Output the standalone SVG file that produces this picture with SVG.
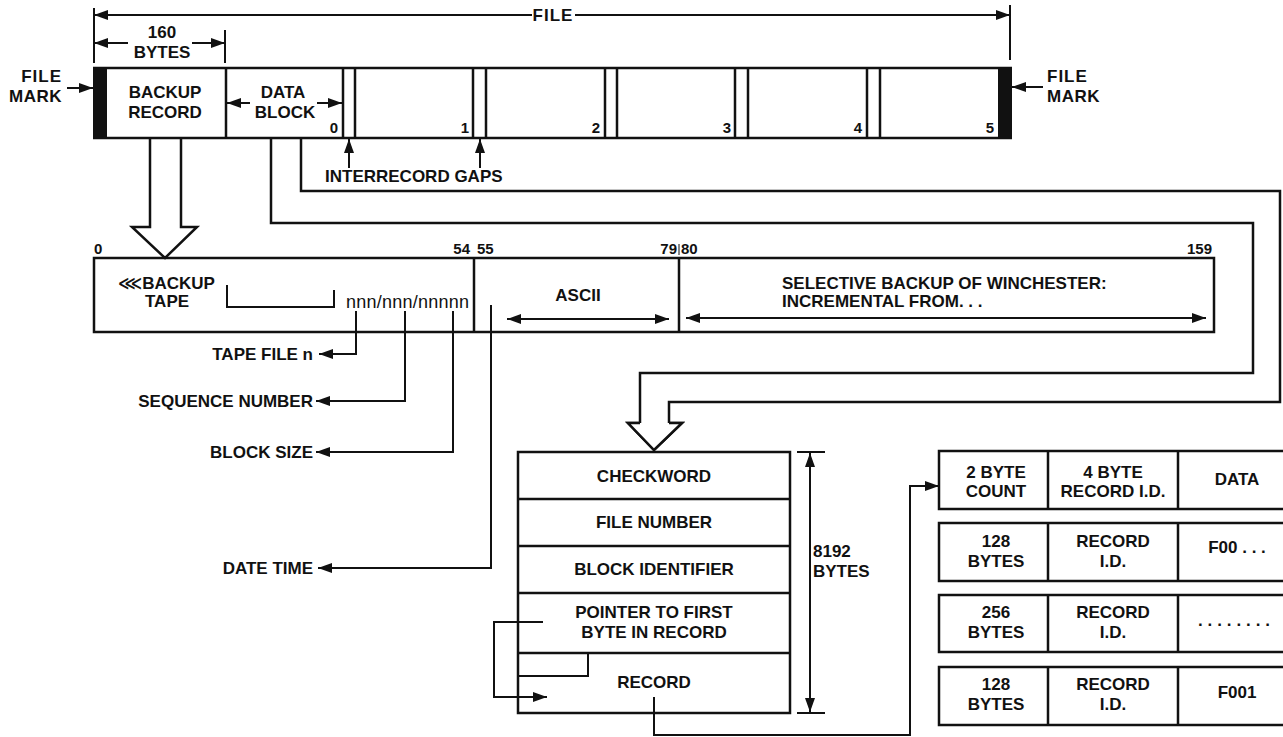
<svg xmlns="http://www.w3.org/2000/svg" width="1283" height="737" viewBox="0 0 1283 737">
<style>
.t{font-family:"Liberation Sans",Arial,Helvetica,"DejaVu Sans",sans-serif;font-weight:bold;font-size:17px;fill:#111}
.c{text-anchor:middle}
.e{text-anchor:end}
.d{font-size:15px}
.box{fill:none;stroke:#111;stroke-width:2.5}
.ln{fill:none;stroke:#111;stroke-width:2}
.hl{fill:#fff;stroke:#111;stroke-width:2.5;stroke-linejoin:miter}
.blk{fill:#111}
</style>
<defs>
<marker id="ah" viewBox="0 0 14 10" refX="14" refY="5" markerWidth="14" markerHeight="10" markerUnits="userSpaceOnUse" orient="auto-start-reverse"><path d="M0,0 L14,5 L0,10 z" fill="#111"/></marker>
</defs>
<rect width="1283" height="737" fill="#fff"/>

<g id="connectors">
  <path class="ln" d="M94,8 V63 M1010,5 V60"/>
  <path class="ln" d="M532,15 H94" marker-end="url(#ah)"/>
  <path class="ln" d="M575,15 H1010" marker-end="url(#ah)"/>
  <path class="ln" d="M225,30 V63"/>
  <path class="ln" d="M128,43 H94" marker-end="url(#ah)"/>
  <path class="ln" d="M192,43 H225" marker-end="url(#ah)"/>
  <path class="ln" d="M67,88 H93" marker-end="url(#ah)"/>
  <path class="ln" d="M1043,87 H1012" marker-end="url(#ah)"/>
  <path class="ln" d="M250,103 H227" marker-end="url(#ah)"/>
  <path class="ln" d="M317,103 H342" marker-end="url(#ah)"/>
  <path class="ln" d="M349,168 V139" marker-end="url(#ah)"/>
  <path class="ln" d="M480,168 V139" marker-end="url(#ah)"/>
  <path class="hl" d="M150,139 V227 H132 L165,258 L197,227 H181 V139"/>
  <path class="hl" style="fill:none" d="M271,139 V223 H1253 V373 H640 V423 H628 L654,450 L682,423 H669 V402 H1280 V191 H301 V139"/>
  <path class="hl" d="M640,423 H628 L654,450 L682,423 H669"/>
  <path class="ln" d="M356,311 V354 H319" marker-end="url(#ah)"/>
  <path class="ln" d="M405,311 V401 H316" marker-end="url(#ah)"/>
  <path class="ln" d="M453,311 V452 H316" marker-end="url(#ah)"/>
  <path class="ln" d="M491,305 V568 H318" marker-end="url(#ah)"/>
  <path class="ln" d="M507,319 H669" marker-start="url(#ah)" marker-end="url(#ah)"/>
  <path class="ln" d="M686,318 H1206" marker-start="url(#ah)" marker-end="url(#ah)"/>
  <path class="ln" d="M797,452 H825 M797,713 H825"/>
  <path class="ln" d="M810,453 V712" marker-start="url(#ah)" marker-end="url(#ah)"/>
  <path class="ln" d="M543,622 H494 V697 H547" marker-end="url(#ah)"/>
  <path class="ln" d="M588,653 V676 H518"/>
  <path class="ln" d="M654,697 V735 H910 V486 H939" marker-end="url(#ah)"/>
</g>

<g id="file-strip">
  <path class="box" d="M93,68 H1012 M93,138 H1012"/>
  <rect class="blk" x="93" y="67" width="14" height="72"/>
  <rect class="blk" x="998" y="67" width="14" height="72"/>
  <path class="box" d="M226,68 V138 M343,68 V138 M355,68 V138 M473,68 V138 M486,68 V138 M605,68 V138 M617,68 V138 M735,68 V138 M748,68 V138 M867,68 V138 M880,68 V138"/>
  <text class="t c" x="553" y="21" letter-spacing="1">FILE</text>
  <text class="t c" x="162" y="38">160</text>
  <text class="t c" x="162" y="58">BYTES</text>
</g>
<g id="file-mark-left">
  <text class="t e" x="62" y="82" letter-spacing="1">FILE</text>
  <text class="t e" x="62" y="102" letter-spacing="0.5">MARK</text>
</g>
<g id="file-mark-right">
  <text class="t" x="1047" y="82" letter-spacing="1">FILE</text>
  <text class="t" x="1047" y="102" letter-spacing="0.5">MARK</text>
</g>
<g id="backup-record">
  <text class="t c" x="165" y="98">BACKUP</text>
  <text class="t c" x="165" y="118">RECORD</text>
</g>
<g id="data-block-0">
  <text class="t c" x="283" y="98">DATA</text>
  <text class="t c" x="285" y="118">BLOCK</text>
  <text class="t e d" x="338" y="133">0</text>
</g>
<g id="data-block-1"><text class="t e d" x="469" y="133">1</text></g>
<g id="data-block-2"><text class="t e d" x="600" y="133">2</text></g>
<g id="data-block-3"><text class="t e d" x="731" y="133">3</text></g>
<g id="data-block-4"><text class="t e d" x="862" y="133">4</text></g>
<g id="data-block-5"><text class="t e d" x="994" y="133">5</text></g>
<g id="interrecord-gaps"><text class="t" x="325" y="182">INTERRECORD GAPS</text></g>

<g id="backup-record-detail">
  <rect class="box" x="94" y="258" width="1120" height="74"/>
  <path class="box" d="M474,258 V332 M679,258 V332"/>
  <path class="ln" d="M679,244 V255" style="stroke-width:1"/>
  <text class="t d" x="94" y="254">0</text>
  <text class="t e d" x="470" y="254">54</text>
  <text class="t d" x="477" y="254">55</text>
  <text class="t e d" x="677" y="254">79</text>
  <text class="t d" x="681" y="254">80</text>
  <text class="t e d" x="1212" y="254">159</text>
  <text class="t" x="118" y="289">⋘BACKUP</text>
  <text class="t" x="145" y="307">TAPE</text>
  <path class="ln" d="M227,285 V307 H334 V290"/>
  <text class="t" x="346" y="308" textLength="123" style="font-weight:normal;font-size:18px">nnn/nnn/nnnnn</text>
  <text class="t c" x="578" y="301">ASCII</text>
  <text class="t" x="782" y="289">SELECTIVE BACKUP OF WINCHESTER:</text>
  <text class="t" x="782" y="307">INCREMENTAL FROM. . .</text>
</g>
<g id="label-tape-file"><text class="t e" x="313" y="360">TAPE FILE  n</text></g>
<g id="label-sequence"><text class="t e" x="313" y="407">SEQUENCE NUMBER</text></g>
<g id="label-block-size"><text class="t e" x="313" y="458">BLOCK SIZE</text></g>
<g id="label-date-time"><text class="t e" x="313" y="574">DATE TIME</text></g>

<g id="data-block-layout">
  <rect class="box" x="518" y="452" width="272" height="261"/>
  <path class="box" d="M518,499 H790 M518,546 H790 M518,593 H790 M518,653 H790"/>
  <text class="t c" x="654" y="482">CHECKWORD</text>
  <text class="t c" x="654" y="528">FILE NUMBER</text>
  <text class="t c" x="654" y="575">BLOCK IDENTIFIER</text>
  <text class="t c" x="654" y="618">POINTER TO FIRST</text>
  <text class="t c" x="654" y="638">BYTE IN RECORD</text>
  <text class="t c" x="654" y="688">RECORD</text>
  <text class="t" x="813" y="557">8192</text>
  <text class="t" x="813" y="577">BYTES</text>
</g>

<g id="record-table">
  <g id="record-header">
    <rect class="box" x="939" y="451" width="360" height="58"/>
    <path class="box" d="M1048,451 V509 M1178,451 V509"/>
    <text class="t c" x="996" y="478">2 BYTE</text>
    <text class="t c" x="996" y="497">COUNT</text>
    <text class="t c" x="1113" y="478">4 BYTE</text>
    <text class="t c" x="1113" y="497">RECORD I.D.</text>
    <text class="t c" x="1237" y="485">DATA</text>
  </g>
  <g id="record-1">
    <rect class="box" x="939" y="523" width="360" height="58"/>
    <path class="box" d="M1048,523 V581 M1178,523 V581"/>
    <text class="t c" x="996" y="547">128</text>
    <text class="t c" x="996" y="567">BYTES</text>
    <text class="t c" x="1113" y="547">RECORD</text>
    <text class="t c" x="1113" y="567">I.D.</text>
    <text class="t c" x="1237" y="553">F00 . . .</text>
  </g>
  <g id="record-2">
    <rect class="box" x="939" y="595" width="360" height="57"/>
    <path class="box" d="M1048,595 V652 M1178,595 V652"/>
    <text class="t c" x="996" y="618">256</text>
    <text class="t c" x="996" y="638">BYTES</text>
    <text class="t c" x="1113" y="618">RECORD</text>
    <text class="t c" x="1113" y="638">I.D.</text>
    <text class="t" x="1198" y="626" textLength="72">........</text>
  </g>
  <g id="record-3">
    <rect class="box" x="939" y="667" width="360" height="58"/>
    <path class="box" d="M1048,667 V725 M1178,667 V725"/>
    <text class="t c" x="996" y="690">128</text>
    <text class="t c" x="996" y="710">BYTES</text>
    <text class="t c" x="1113" y="690">RECORD</text>
    <text class="t c" x="1113" y="710">I.D.</text>
    <text class="t c" x="1237" y="698">F001</text>
  </g>
</g>
</svg>
